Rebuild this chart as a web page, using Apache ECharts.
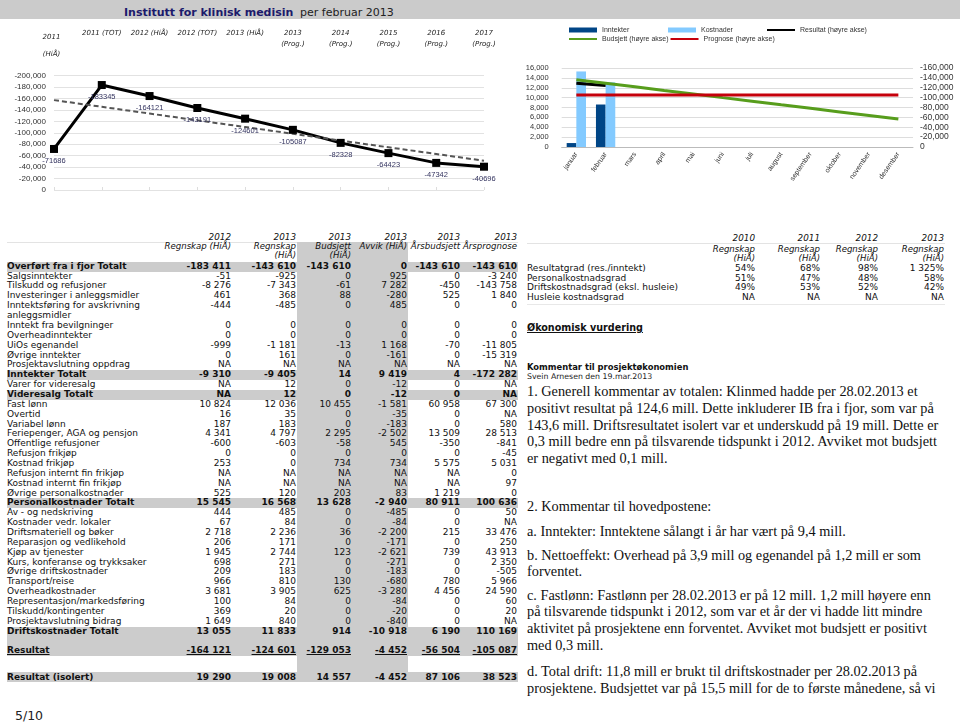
<!DOCTYPE html>
<html><head><meta charset="utf-8"><title>Institutt for klinisk medisin</title>
<script src="https://cdn.jsdelivr.net/npm/echarts@6.0.0/dist/echarts.min.js"></script>
<style>
html,body{margin:0;padding:0;background:#fff;}
body{position:relative;width:960px;height:724px;overflow:hidden;font-family:"DejaVu Sans",sans-serif;color:#111;}
.abs{position:absolute;white-space:nowrap;}
#hdr{position:absolute;left:0;top:0;width:960px;height:19px;background:#cbcbcb;}
#layerBands,#layerText{position:absolute;left:0;top:0;width:960px;height:724px;}
#chartL{position:absolute;left:0;top:0;width:520px;height:200px;}
#chartR{position:absolute;left:500px;top:0;width:460px;height:220px;}
.serif{position:absolute;white-space:pre;font-family:"Liberation Serif",serif;font-size:14.3px;line-height:16.65px;color:#111;}
</style></head>
<body>
<div id="hdr"></div>
<div class="abs" style="left:124px;top:5px;font-size:11px;line-height:15px;font-weight:bold;color:#1c1a6c">Institutt for klinisk medisin</div>
<div class="abs" style="left:300px;top:5px;font-size:11px;line-height:15px;color:#222">per februar 2013</div>
<div id="layerBands"></div>
<div id="layerText"></div>
<div id="chartL"></div>
<div id="chartR"></div>
<script>
// ---------- DATA: left chart ----------
const periods = ['2011 (HiÅ)', '2011 (TOT)', '2012 (HiÅ)', '2012 (TOT)', '2013 (HiÅ)', '2013 (Prog.)', '2014 (Prog.)', '2015 (Prog.)', '2016 (Prog.)', '2017 (Prog.)'];
const resultatPeriods = [-71686, -183345, -164121, -143191, -124601, -105087, -82328, -64423, -47342, -40696];
const trendPeriods = [-157000, -145300, -133500, -121700, -110000, -98200, -86400, -74600, -62900, -51100];

// ---------- DATA: right chart ----------
const months = ['januar', 'februar', 'mars', 'april', 'mai', 'juni', 'juli', 'august', 'september', 'oktober', 'november', 'desember'];
const inntekter = [800, 8605, null, null, null, null, null, null, null, null, null, null];
const kostnader = [15300, 13100, null, null, null, null, null, null, null, null, null, null];
const resultatMonth = [-129000, -124601, null, null, null, null, null, null, null, null, null, null];
const budsjett = [-136351, -129053, -121800, -114500, -107300, -100000, -92800, -85500, -78300, -71000, -63800, -56504];
const prognose = [-105087, -105087, -105087, -105087, -105087, -105087, -105087, -105087, -105087, -105087, -105087, -105087];
const seriesNames = ['Inntekter', 'Kostnader', 'Resultat (høyre akse)', 'Budsjett (høyre akse)', 'Prognose (høyre akse)'];

// ---------- DATA: main table ----------
const tblYears = ['2012', '2013', '2013', '2013', '2013', '2013'];
const tblHeads = ['Regnskap (HiÅ)', 'Regnskap\n(HiÅ)', 'Budsjett\n(HiÅ)', 'Avvik (HiÅ)', 'Årsbudsjett', 'Årsprognose'];
const rowLabels = ['Overført fra i fjor Totalt', 'Salgsinntekter', 'Tilskudd og refusjoner', 'Investeringer i anleggsmidler',
  'Inntektsføring for avskrivning anleggsmidler', 'Inntekt fra bevilgninger', 'Overheadinntekter', 'UiOs egenandel',
  'Øvrige inntekter', 'Prosjektavslutning oppdrag', 'Inntekter Totalt', 'Varer for videresalg', 'Videresalg Totalt',
  'Fast lønn', 'Overtid', 'Variabel lønn', 'Feriepenger, AGA og pensjon', 'Offentlige refusjoner', 'Refusjon frikjøp',
  'Kostnad frikjøp', 'Refusjon internt fin frikjøp', 'Kostnad internt fin frikjøp', 'Øvrige personalkostnader',
  'Personalkostnader Totalt', 'Av - og nedskriving', 'Kostnader vedr. lokaler', 'Driftsmateriell og bøker',
  'Reparasjon og vedlikehold', 'Kjøp av tjenester', 'Kurs, konferanse og trykksaker', 'Øvrige driftskostnader',
  'Transport/reise', 'Overheadkostnader', 'Representasjon/markedsføring', 'Tilskudd/kontingenter',
  'Prosjektavslutning bidrag', 'Driftskostnader Totalt', '', 'Resultat', '', 'Resultat (isolert)'];
const regnskap2012 = [-183411, -51, -8276, 461, -444, 0, 0, -999, 0, null, -9310, null, null, 10824, 16, 187, 4341, -600, 0, 253, null, null, 525, 15545, 444, 67, 2718, 206, 1945, 698, 209, 966, 3681, 100, 369, 1649, 13055, '', -164121, '', 19290];
const regnskap2013 = [-143610, -925, -7343, 368, -485, 0, 0, -1181, 161, null, -9405, 12, 12, 12036, 35, 183, 4797, -603, 0, 0, null, null, 120, 16568, 485, 84, 2236, 171, 2744, 271, 183, 810, 3905, 84, 20, 840, 11833, '', -124601, '', 19008];
const budsjett2013 = [-143610, 0, -61, 88, 0, 0, 0, -13, 0, null, 14, 0, 0, 10455, 0, 0, 2295, -58, 0, 734, null, null, 203, 13628, 0, 0, 36, 0, 123, 0, 0, 130, 625, 0, 0, 0, 914, '', -129053, '', 14557];
const avvik2013 = [0, 925, 7282, -280, 485, 0, 0, 1168, -161, null, 9419, -12, -12, -1581, -35, -183, -2502, 545, 0, 734, null, null, 83, -2940, -485, -84, -2200, -171, -2621, -271, -183, -680, -3280, -84, -20, -840, -10918, '', -4452, '', -4452];
const arsbudsjett2013 = [-143610, 0, -450, 525, 0, 0, 0, -70, 0, null, 4, 0, 0, 60958, 0, 0, 13509, -350, 0, 5575, null, null, 1219, 80911, 0, 0, 215, 0, 739, 0, 0, 780, 4456, 0, 0, 0, 6190, '', -56504, '', 87106];
const arsprognose2013 = [-143610, -3240, -143758, 1840, 0, 0, 0, -11805, -15319, null, -172282, null, null, 67300, null, 580, 28513, -841, -45, 5031, 0, 97, 0, 100636, 50, null, 33476, 250, 43913, 2350, -505, 5966, 24590, 60, 20, null, 110169, '', -105087, '', 38523];

// ---------- DATA: ratio table ----------
const ratioYears = ['2010', '2011', '2012', '2013'];
const ratioHeads = ['Regnskap\n(HiÅ)', 'Regnskap\n(HiÅ)', 'Regnskap\n(HiÅ)', 'Regnskap\n(HiÅ)'];
const ratioLabels = ['Resultatgrad (res./inntekt)', 'Personalkostnadsgrad', 'Driftskostnadsgrad (eksl. husleie)', 'Husleie kostnadsgrad'];
const ratio2010 = [54, 51, 49, null];
const ratio2011 = [68, 47, 53, null];
const ratio2012 = [98, 48, 52, null];
const ratio2013 = [1325, 58, 42, null];

// ---------- DATA: texts ----------
const vurderingTitle = 'Økonomisk vurdering';
const kommentarTitle = 'Kommentar til prosjektøkonomien';
const kommentarBy = 'Svein Arnesen den 19.mar.2013';
const comment1 = ['1. Generell kommentar av totalen: Klinmed hadde per 28.02.2013 et',
  'positivt resultat på 124,6 mill. Dette inkluderer IB fra i fjor, som var på',
  '143,6 mill. Driftsresultatet isolert var et underskudd på 19 mill. Dette er',
  '0,3 mill bedre enn på tilsvarende tidspunkt i 2012. Avviket mot budsjett',
  'er negativt med 0,1 mill.'];
const comment2 = ['2. Kommentar til hovedpostene:'];
const commentA = ['a. Inntekter: Inntektene sålangt i år har vært på 9,4 mill.'];
const commentB = ['b. Nettoeffekt: Overhead på 3,9 mill og egenandel på 1,2 mill er som', 'forventet.'];
const commentC = ['c. Fastlønn: Fastlønn per 28.02.2013 er på 12 mill. 1,2 mill høyere enn',
  'på tilsvarende tidspunkt i 2012, som var et år der vi hadde litt mindre',
  'aktivitet på prosjektene enn forventet. Avviket mot budsjett er positivt',
  'med 0,3 mill.'];
const commentD = ['d. Total drift: 11,8 mill er brukt til driftskostnader per 28.02.2013 på',
  'prosjektene. Budsjettet var på 15,5 mill for de to første månedene, så vi'];
const pageLabel = '5/10';

// ---------- helpers ----------
const bands = document.getElementById('layerBands');
const texts = document.getElementById('layerText');
function box(parent, css, txt) {
  const d = document.createElement('div');
  d.style.cssText = 'position:absolute;' + css;
  if (txt !== undefined) d.textContent = txt;
  parent.appendChild(d);
  return d;
}
function fmtNum(v) {
  if (v === null) return 'NA';
  const s = Math.abs(v).toString().replace(/\B(?=(\d{3})+(?!\d))/g, '\u00a0');
  return (v < 0 ? '-' : '') + s;
}
function fmtComma(v) { return Number(v).toLocaleString('en-US'); }

// ---------- main table ----------
(function () {
  const GRAY = '#cccccc';
  const left = 7, width = 511;
  const edges = [231, 296, 351, 407, 460, 517];
  const cols = [regnskap2012, regnskap2013, budsjett2013, avvik2013, arsbudsjett2013, arsprognose2013];
  const pitch = 9.86;
  box(bands, 'left:' + left + 'px;top:242px;width:' + width + 'px;height:1px;background:#e3e3e3;');
  box(bands, 'left:297px;top:242.3px;width:110.5px;height:440px;background:' + GRAY + ';');
  tblYears.forEach((y, i) => {
    box(texts, 'left:' + (edges[i] - 90) + 'px;top:233px;width:90px;text-align:right;font-size:8.8px;line-height:9.4px;font-style:italic;white-space:nowrap;color:#111;', y);
    box(texts, 'left:' + (edges[i] - 90) + 'px;top:242px;width:90px;text-align:right;font-size:8.6px;line-height:9.4px;font-style:italic;white-space:pre;color:#111;', tblHeads[i]);
  });
  let cur = 266.7 - pitch / 2;
  rowLabels.forEach((lab, i) => {
    const isTotal = /Totalt$/.test(lab) || /^Resultat/.test(lab) || (lab === '' && rowLabels[i + 1] === 'Resultat');
    let h = pitch;
    if (lab === '' && rowLabels[i + 1] === 'Resultat (isolert)') h = 15.6;
    if (lab === 'Resultat (isolert)') h = 10.6;
    const bold = isTotal && lab !== '';
    const under = lab === 'Resultat';
    const style = 'font-size:9px;line-height:' + h + 'px;color:#111;' + (bold ? 'font-weight:bold;' : '') + (under ? 'text-decoration:underline;' : '');
    const ld = box(texts, 'left:' + left + 'px;top:' + cur + 'px;width:160px;white-space:normal;' + style, lab);
    const lines = lab === '' ? 1 : Math.max(1, Math.round(ld.offsetHeight / h));
    if (isTotal) box(bands, 'left:' + left + 'px;top:' + cur + 'px;width:' + width + 'px;height:' + (h * lines) + 'px;background:' + GRAY + ';');
    if (lab !== '') {
      cols.forEach((c, j) => {
        box(texts, 'left:' + (edges[j] - 90) + 'px;top:' + cur + 'px;width:90px;text-align:right;white-space:nowrap;' + style, fmtNum(c[i]));
      });
    }
    cur += h * lines;
  });
})();

// ---------- ratio table ----------
(function () {
  const edges = [755, 820, 878, 944];
  const cols = [ratio2010, ratio2011, ratio2012, ratio2013];
  box(bands, 'left:527px;top:243.3px;width:418px;height:1px;background:#e3e3e3;');
  box(bands, 'left:527px;top:303.5px;width:418px;height:1px;background:#e8e8e8;');
  ratioYears.forEach((y, i) => {
    box(texts, 'left:' + (edges[i] - 90) + 'px;top:234.3px;width:90px;text-align:right;font-size:8.8px;line-height:9.4px;font-style:italic;white-space:nowrap;color:#111;', y);
    box(texts, 'left:' + (edges[i] - 90) + 'px;top:245.3px;width:90px;text-align:right;font-size:8.6px;line-height:8.6px;font-style:italic;white-space:pre;color:#111;', ratioHeads[i]);
  });
  ratioLabels.forEach((lab, r) => {
    const top = 263.9 + r * 9.67;
    box(texts, 'left:527px;top:' + top + 'px;font-size:9px;line-height:9.67px;white-space:nowrap;color:#111;', lab);
    cols.forEach((c, j) => {
      box(texts, 'left:' + (edges[j] - 90) + 'px;top:' + top + 'px;width:90px;text-align:right;font-size:9px;line-height:9.67px;white-space:nowrap;color:#111;', c[r] === null ? 'NA' : fmtNum(c[r]) + '%');
    });
  });
})();

// ---------- comments ----------
box(texts, 'left:527px;top:322px;font-size:9.6px;line-height:11px;font-weight:bold;text-decoration:underline;white-space:nowrap;color:#111;', vurderingTitle);
box(texts, 'left:527px;top:361.7px;font-size:8.4px;line-height:10px;font-weight:bold;white-space:nowrap;color:#111;', kommentarTitle);
box(texts, 'left:527px;top:371.7px;font-size:7.8px;line-height:10px;white-space:nowrap;color:#222;', kommentarBy);
[[comment1, 383.4], [comment2, 498.4], [commentA, 523.4], [commentB, 546.7], [commentC, 586.7], [commentD, 663.4]].forEach(p => {
  const d = box(texts, 'left:527px;top:' + p[1] + 'px;');
  d.className = 'serif';
  d.textContent = p[0].join('\n');
});
box(texts, 'left:15px;top:708px;font-size:12.5px;line-height:16px;white-space:nowrap;color:#222;', pageLabel);

// ---------- left chart ----------
const chartL = echarts.init(document.getElementById('chartL'), null, { renderer: 'canvas' });
chartL.setOption({
  animation: false,
  grid: { left: 54, right: 36, top: 75.5, bottom: 10 },
  xAxis: {
    type: 'category', position: 'top', data: periods, boundaryGap: false,
    axisLine: { show: false },
    axisTick: { show: true, length: 3, lineStyle: { color: '#dddddd' } },
    splitLine: { show: false },
    axisLabel: {
      interval: 0, showMinLabel: true, showMaxLabel: true, margin: 48, verticalAlign: 'top',
      fontFamily: 'DejaVu Sans', fontStyle: 'italic', fontSize: 7, color: '#222', lineHeight: 11,
      formatter: function (v, i) {
        if (i === 0) { const p = v.split(' '); return '{f|' + p[0] + '}\n{f|' + p[1] + '}'; }
        return v.indexOf('(Prog.)') >= 0 ? v.replace(' ', '\n') : v;
      },
      rich: { f: { fontFamily: 'DejaVu Sans', fontStyle: 'italic', fontSize: 7, color: '#222', lineHeight: 17, padding: [2, 5, 0, 0] } }
    }
  },
  yAxis: {
    type: 'value', inverse: true, min: -200000, max: 0, interval: 20000,
    axisLine: { show: false }, axisTick: { show: false },
    axisLabel: { fontFamily: 'Liberation Sans', fontSize: 8, color: '#333', margin: 8, formatter: fmtComma },
    splitLine: { lineStyle: { color: '#e2e2e2', width: 1 } }
  },
  series: [
    {
      type: 'line', data: resultatPeriods, symbol: 'rect', symbolSize: 8,
      lineStyle: { color: '#000', width: 3 }, itemStyle: { color: '#000' },
      label: { show: true, position: 'bottom', distance: 4, fontFamily: 'Liberation Sans', fontSize: 7.5, color: '#33335f', formatter: p => String(p.value) }
    },
    {
      type: 'line', data: trendPeriods, symbol: 'none', z: 3,
      lineStyle: { color: '#555', width: 2, type: [5, 3] }
    }
  ]
});

// ---------- right chart ----------
const chartR = echarts.init(document.getElementById('chartR'), null, { renderer: 'canvas' });
const C_INN = '#004586', C_KOST = '#83caff', C_RES = '#000000', C_BUD = '#579d1c', C_PROG = '#c5000b';
const LINE_ICON = 'path://M0,0M0,1.5L28,1.5L28,3.5L0,3.5ZM28,5';
chartR.setOption({
  animation: false,
  color: [C_INN, C_KOST, C_RES, C_BUD, C_PROG],
  legend: {
    left: 69, top: 26.5, width: 300, padding: 0, itemWidth: 28, itemHeight: 5, itemGap: 2,
    formatter: n => '{w|' + n + '}',
    textStyle: {
      fontFamily: 'Liberation Sans', fontSize: 7, color: '#333',
      rich: { w: { width: 64, lineHeight: 9, fontFamily: 'Liberation Sans', fontSize: 7, color: '#333' } }
    },
    data: [{ name: seriesNames[0], icon: 'rect' }, { name: seriesNames[1], icon: 'rect' },
      { name: seriesNames[2], icon: LINE_ICON }, { name: seriesNames[3], icon: LINE_ICON }, { name: seriesNames[4], icon: LINE_ICON }]
  },
  grid: { left: 61.7, right: 47, top: 68, bottom: 73 },
  xAxis: {
    type: 'category', data: months,
    axisLine: { lineStyle: { color: '#bbbbbb' } },
    axisTick: { length: 4, lineStyle: { color: '#cccccc' } },
    axisLabel: { interval: 0, rotate: 55, fontFamily: 'Liberation Sans', fontSize: 7, color: '#333', margin: 6 }
  },
  yAxis: [
    {
      type: 'value', min: 0, max: 16000, interval: 2000,
      axisLine: { show: false }, axisTick: { show: false },
      axisLabel: { fontFamily: 'Liberation Sans', fontSize: 7.5, color: '#333', margin: 13, formatter: fmtComma },
      splitLine: { lineStyle: { color: '#dddddd' } }
    },
    {
      type: 'value', inverse: true, min: -160000, max: 0, interval: 20000, position: 'right',
      axisLine: { show: false }, axisTick: { show: false },
      axisLabel: { fontFamily: 'Liberation Sans', fontSize: 8.5, color: '#333', margin: 7, formatter: fmtComma },
      splitLine: { show: false }
    }
  ],
  series: [
    { name: seriesNames[0], type: 'bar', data: inntekter, barGap: '0%', barCategoryGap: '34%', itemStyle: { color: C_INN } },
    { name: seriesNames[1], type: 'bar', data: kostnader, barGap: '0%', barCategoryGap: '34%', itemStyle: { color: C_KOST } },
    { name: seriesNames[2], type: 'line', yAxisIndex: 1, data: resultatMonth, symbol: 'none', lineStyle: { color: C_RES, width: 3 }, itemStyle: { color: C_RES } },
    { name: seriesNames[3], type: 'line', yAxisIndex: 1, data: budsjett, symbol: 'none', lineStyle: { color: C_BUD, width: 3 }, itemStyle: { color: C_BUD } },
    { name: seriesNames[4], type: 'line', yAxisIndex: 1, data: prognose, symbol: 'none', lineStyle: { color: C_PROG, width: 3 }, itemStyle: { color: C_PROG } }
  ]
});
</script>
</body></html>
